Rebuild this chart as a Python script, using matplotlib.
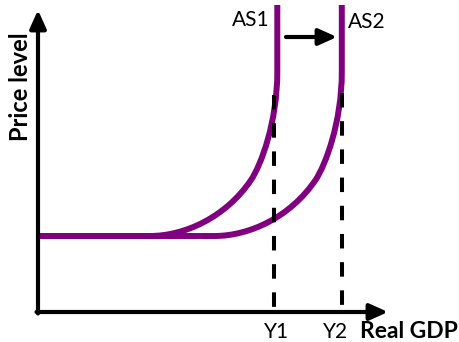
import matplotlib
matplotlib.use('Agg')
import matplotlib.pyplot as plt
from matplotlib.path import Path
from matplotlib.patches import PathPatch

# AS curves as bezier control points (GDP, price level), origin at axis corner
as1_gdp = [2, 112, 147, 188, 213, 223, 239.3, 239.3, 239.3]
as1_price = [76, 76, 76, 95, 132, 146.8, 190, 240, 307]
as2_gdp = [2, 176.5, 211.5, 252.5, 277.5, 287.5, 303.8, 303.8, 303.8]
as2_price = [76, 76, 76, 95, 132, 146.8, 190, 240, 307]
codes = [Path.MOVETO, Path.LINETO, Path.CURVE4, Path.CURVE4, Path.CURVE4,
         Path.CURVE4, Path.CURVE4, Path.CURVE4, Path.LINETO]

y_levels = [236, 304]        # Y1, Y2 dashed guides
y_tops = [217, 219]
y_label_x = [239, 298]
y_labels = ['Y1', 'Y2']
curve_labels = ['AS1', 'AS2']
shift = [248, 299, 275]      # arrow from, to, at price level
x_max, y_max = 350, 302

purple = '#800080'
plt.rcParams['font.family'] = ['Lato', 'DejaVu Sans']

fig = plt.figure(figsize=(4.59, 3.42), dpi=100)
ax = fig.add_axes([0, 0, 1, 1])
ax.set_xlim(-38, 421)
ax.set_ylim(-30, 312)
ax.axis('off')

# axes with arrow heads
arrow_kw = dict(arrowstyle='-|>,head_length=1,head_width=0.45', color='black',
                lw=3, mutation_scale=11, shrinkA=0, shrinkB=0)
ax.annotate('', xy=(0, y_max), xytext=(0, -1.5), arrowprops=arrow_kw)
ax.annotate('', xy=(x_max, 0), xytext=(-1.5, 0), arrowprops=arrow_kw)

for gx, py in [(as1_gdp, as1_price), (as2_gdp, as2_price)]:
    p = Path(list(zip(gx, py)), codes)
    ax.add_patch(PathPatch(p, facecolor='none', edgecolor=purple, lw=4.3,
                           capstyle='butt', clip_on=False, zorder=2))

for x, top in zip(y_levels, y_tops):
    ax.plot([x, x], [top, 0], color='black', lw=2.9,
            linestyle=(0, (3.6, 3.4)), zorder=3)

ax.annotate('', xy=(shift[1], shift[2]), xytext=(shift[0], shift[2]),
            arrowprops=arrow_kw)

ax.text(232, 292, curve_labels[0], ha='right', va='center', fontsize=15)
ax.text(310, 289.5, curve_labels[1], ha='left', va='center', fontsize=15)
for x, lab in zip(y_label_x, y_labels):
    ax.text(x, -20, lab, ha='center', va='center', fontsize=15)
ax.text(322, -20, 'Real GDP', ha='left', va='center', fontsize=16.5, fontweight='bold')
ax.text(-17, 225, 'Price level', ha='center', va='center', rotation=90,
        fontsize=17, fontweight='bold')

fig.savefig('out.png', dpi=100)
